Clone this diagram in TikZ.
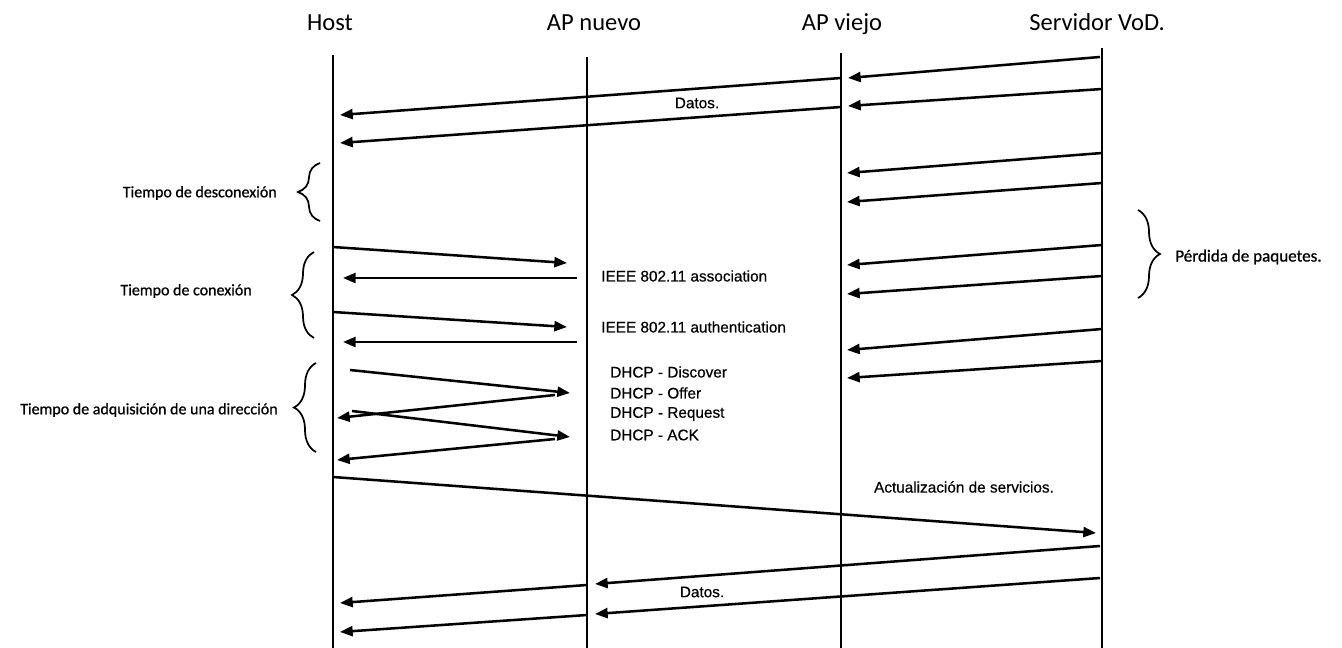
\documentclass[tikz,border=0pt]{standalone}
\usepackage{fontspec}
\setmainfont{Carlito}
\newfontfamily\sidef[FakeBold=0.8]{Carlito}
\newfontfamily\arialf[FakeBold=0.5]{Liberation Sans}
\usetikzlibrary{arrows.meta,decorations.pathreplacing}
\begin{document}
\begin{tikzpicture}[x=0.75pt,y=-0.75pt,
  life/.style={line width=2.2pt},
  msg/.style={line width=1.9pt,-{Triangle[length=9.5pt,width=7.5pt]}},
  brc/.style={line width=1.3pt,decorate,decoration={brace,amplitude=16.5pt}},
  head/.style={font=\fontsize{18.4}{22}\selectfont,inner sep=0pt,anchor=base},
  side/.style={font=\sidef\fontsize{12}{14}\selectfont,inner sep=0pt},
  loss/.style={font=\sidef\fontsize{12.8}{15}\selectfont,inner sep=0pt},
  lab/.style={font=\arialf\fontsize{11.5}{14}\selectfont,inner sep=0pt}]
\useasboundingbox[fill=white] (0,0) rectangle (1342,648);

% headers
\node[head] (host) at (330,31) {Host};
\node[head] (apn)  at (594,31) {AP nuevo};
\node[head] (apv)  at (842,31) {AP viejo};
\node[head] (srv)  at (1097,31) {Servidor VoD.};

% lifelines
\coordinate (hostT) at (333,55);  \coordinate (hostB) at (333,648);
\coordinate (apnT)  at (587,57);  \coordinate (apnB)  at (587,648);
\coordinate (apvT)  at (841,53);  \coordinate (apvB)  at (841,648);
\coordinate (srvT)  at (1102,48); \coordinate (srvB)  at (1102,648);
\draw[life] (hostT) -- (hostB);
\draw[life] (apnT) -- (apnB);
\draw[life] (apvT) -- (apvB);
\draw[life] (srvT) -- (srvB);

% arrows with tips
\foreach \n/\sx/\sy/\tx/\ty in {
  1/1100/57/848/78, 2/1102/89/848/106,
  3/1102/153/847/173, 4/1102/183/847/202,
  5/1102/245/847/265, 6/1102/276/847/294,
  7/1102/329/847/350, 8/1102/361/847/378,
  9/841/78/340/115, 10/841/107/340/143,
  11/333/247/567/263, 12/577/278/343/278,
  13/333/312/567/327, 14/577/342/343/342,
  15/350/370/570/393, 16/555/395/337/418,
  17/352/411/570/437, 18/555/439/337/460,
  19/333/477/1096/533,
  20/1100/546/595/584, 21/1100/578/595/614,
  22/587/585/340/603, 23/587/615/340/632}
{
  \coordinate (s\n) at (\sx,\sy);
  \coordinate (t\n) at (\tx,\ty);
  \draw[msg] (s\n) -- (t\n);
}

% message labels
\node[lab] (datos1) at (697,103) {Datos.};
\node[lab] (datos2) at (702,592) {Datos.};
\node[lab,anchor=west] (assoc) at (601,276) {IEEE 802.11 association};
\node[lab,anchor=west] (auth)  at (601,327) {IEEE 802.11 authentication};
\node[lab,anchor=west] (dh1) at (610,372) {DHCP - Discover};
\node[lab,anchor=west] (dh2) at (610,393) {DHCP - Offer};
\node[lab,anchor=west] (dh3) at (610,414) {DHCP - Request};
\node[lab,anchor=west] (dh4) at (610,435) {DHCP - ACK};
\node[lab] (act) at (964,487) {Actualización de servicios.};

% braces
\coordinate (b1a) at (320,221); \coordinate (b1b) at (320,163);
\coordinate (b2a) at (314,338); \coordinate (b2b) at (314,252);
\coordinate (b3a) at (316,452); \coordinate (b3b) at (316,363);
\coordinate (b4a) at (1138,210); \coordinate (b4b) at (1138,298);
\draw[brc] (b1a) -- (b1b);
\draw[brc] (b2a) -- (b2b);
\draw[brc] (b3a) -- (b3b);
\draw[brc] (b4a) -- (b4b);

\node[side,anchor=east] (tdes) at (277,193) {Tiempo de desconexión};
\node[side,anchor=east] (tcon) at (252,291) {Tiempo de conexión};
\node[side,anchor=east] (tadq) at (278,410) {Tiempo de adquisición de una dirección};
\node[loss,anchor=west] (perd) at (1175,257) {Pérdida de paquetes.};
\end{tikzpicture}
\end{document}
